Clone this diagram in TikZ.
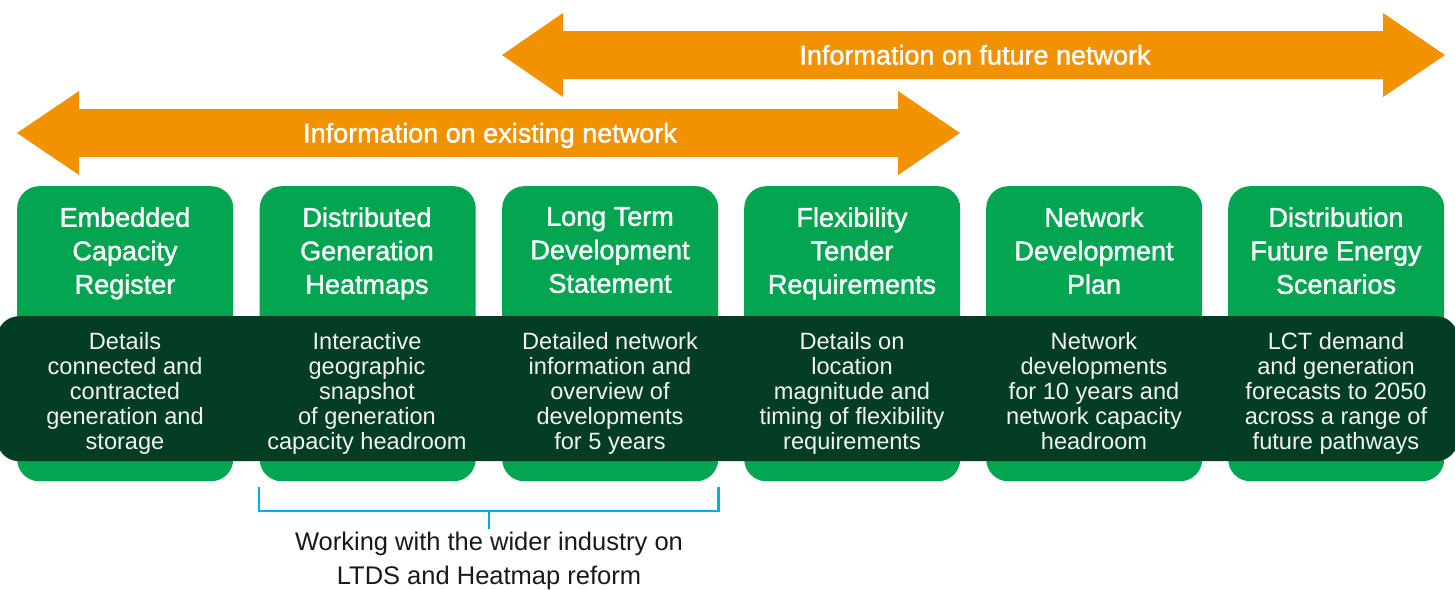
\documentclass[tikz,border=0pt]{standalone}
\usepackage{fontspec}
\setmainfont{Liberation Sans}
\newfontfamily\headfont[FakeBold=1.5]{Liberation Sans}
\usetikzlibrary{calc}
\definecolor{grn}{HTML}{03A551}
\definecolor{dark}{HTML}{033D23}
\definecolor{org}{HTML}{F39200}
\definecolor{brk}{HTML}{00AEEF}
\tikzset{x=1pt,y=-1pt,
 card/.style={fill=grn,rounded corners=22pt,minimum width=216pt,minimum height=295pt,inner sep=0pt,anchor=north west},
 band/.style={fill=dark,rounded corners=22pt,minimum width=1461pt,minimum height=145pt,inner sep=0pt,anchor=north},
 title/.style={text=white,align=center,font=\headfont\fontsize{27}{33.5}\selectfont,anchor=north,inner sep=0pt,execute at begin node=\strut},
 body/.style={text=white!94!dark,align=center,font=\fontsize{23.6}{25}\selectfont,anchor=north,inner sep=0pt,execute at begin node=\strut},
 arrowlabel/.style={text=white,font=\headfont\fontsize{27}{30}\selectfont,inner sep=0pt,anchor=base},
 note/.style={text=black!90,align=center,font=\fontsize{25.5}{33.5}\selectfont,anchor=north,inner sep=0pt,execute at begin node=\strut},
 bracket/.style={draw=brk,line width=2.6pt}
}
\begin{document}
\begin{tikzpicture}
\useasboundingbox (0,0) rectangle (1455,589);
% arrows
\fill[org] (502,55) -- (563,13) -- (563,31) -- (1383,31) -- (1383,13) -- (1445,55) -- (1383,97) -- (1383,79) -- (563,79) -- (563,97) -- cycle;
\node[arrowlabel] (futurelabel) at (975,64.5) {Information on future network};
\fill[org] (17,133) -- (79,91) -- (79,109) -- (898,109) -- (898,91) -- (960,133) -- (898,175) -- (898,157) -- (79,157) -- (79,175) -- cycle;
\node[arrowlabel] (existinglabel) at (490,142.5) {Information on existing network};
% cards
\node[card] (c1) at (17,186) {};
\node[card] (c2) at (259.5,186) {};
\node[card] (c3) at (502,186) {};
\node[card] (c4) at (744,186) {};
\node[card] (c5) at (986,186) {};
\node[card] (c6) at (1228,186) {};
\node[band] (b) at (727.5,316) {};
% titles
\node[title] (t1) at (125,207) {Embedded\\Capacity\\Register};
\node[title] (t2) at (367,207) {Distributed\\Generation\\Heatmaps};
\node[title] (t3) at (610,207) {Long Term\\Development\\Statement};
\node[title] (t4) at (852,207) {Flexibility\\Tender\\Requirements};
\node[title] (t5) at (1094,207) {Network\\Development\\Plan};
\node[title] (t6) at (1336,207) {Distribution\\Future Energy\\Scenarios};
% bodies
\node[body] (d1) at (125,332) {Details\\connected and\\contracted\\generation and\\storage};
\node[body] (d2) at (367,332) {Interactive\\geographic\\snapshot\\of generation\\capacity headroom};
\node[body] (d3) at (610,332) {Detailed network\\information and\\overview of\\developments\\for 5 years};
\node[body] (d4) at (852,332) {Details on\\location\\magnitude and\\timing of flexibility\\requirements};
\node[body] (d5) at (1094,332) {Network\\developments\\for 10 years and\\network capacity\\headroom};
\node[body] (d6) at (1336,332) {LCT demand\\and generation\\forecasts to 2050\\across a range of\\future pathways};
% bracket
\coordinate (bl) at (259,487);
\coordinate (br) at (718.5,487);
\coordinate (bm) at (489,529);
\draw[bracket] (bl) -- (bl |- 0,511) -- (br |- 0,511) -- (br);
\draw[bracket] (bm |- 0,511) -- (bm);
\node[note] (n) at (489,532) {Working with the wider industry on\\LTDS and Heatmap reform};
\end{tikzpicture}
\end{document}
